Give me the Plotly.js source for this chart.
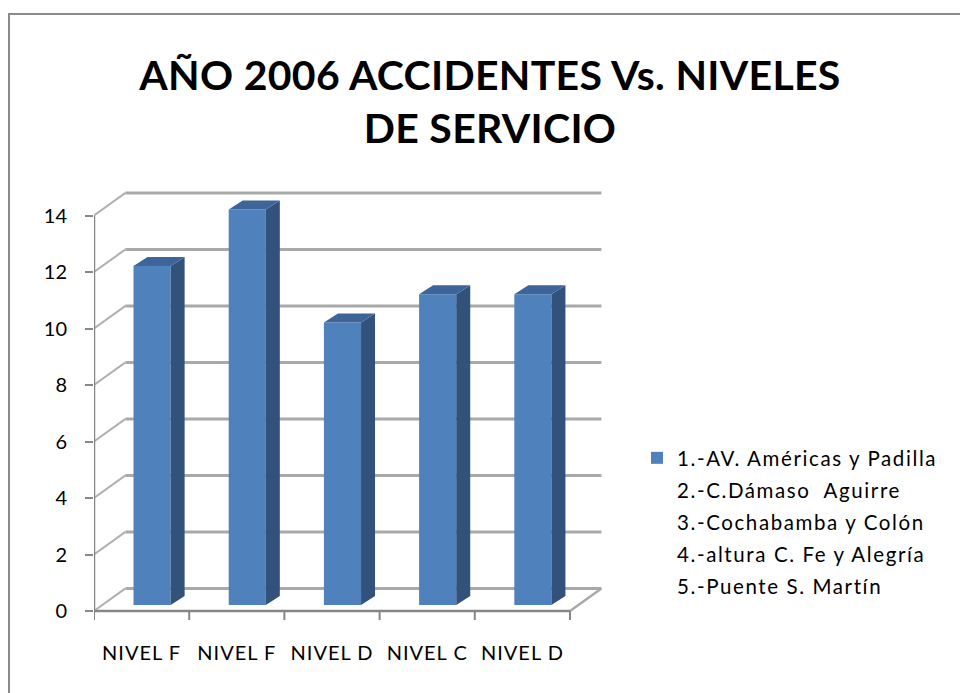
<!DOCTYPE html>
<html>
<head>
<meta charset="utf-8">
<script src="https://cdn.plot.ly/plotly-3.0.1.min.js"></script>
<style>
  html, body { margin: 0; padding: 0; background: #ffffff; overflow: hidden; }
  #chart { width: 960px; height: 693px; }
  .legendtext { letter-spacing: 1.6px; }
  .xtick text { letter-spacing: 1px; }
  .gtitle { letter-spacing: 0.3px; }
</style>
</head>
<body>
<div id="chart"></div>
<script>
// ---------- data ----------
const titleText = "AÑO 2006 ACCIDENTES Vs. NIVELES<br>DE SERVICIO";
const categories = ["NIVEL F", "NIVEL F", "NIVEL D", "NIVEL C", "NIVEL D"];
const accidents = [12, 14, 10, 11, 11];
const legendNames = [
  "1.-AV. Américas y Padilla",
  "2.-C.Dámaso  Aguirre",
  "3.-Cochabamba y Colón",
  "4.-altura C. Fe y Alegría",
  "5.-Puente S. Martín"
];
const yTicks = [0, 2, 4, 6, 8, 10, 12, 14];

// ---------- style / geometry constants ----------
const FRONT = "#4F81BD", SIDE = "#32527B", TOP = "#3D659A";
const GRID = "#a9a9a9", AXIS = "#878787", FRAME = "#8a8a8a";
const BACK_DX = 0.33, BACK_DY = 0.80;    // depth of the wall (data units)
const BAR_DX = 0.11, BAR_DY = 0.21;      // bar front offset into depth
const BAR_W = 0.39;                       // bar width
const SIDE_DX = 0.147, SIDE_DY = 0.32;   // bar depth

const nCat = categories.length;
const xMin = -0.5, xMax = nCat - 0.5;
const yTop = yTicks[yTicks.length - 1];

// ---------- page geometry ----------
const W = 960, H = 693;
const ML = 94, MT = 180, PW = 526, PH = 450;
const XPX = 95.2, YPX = 28.25, Y0PX = 611;
const px2paperX = px => (px - ML) / PW;
const px2paperY = py => (MT + PH - py) / PH;

// ---------- shapes: chart frame, walls, grid, axes ----------
const shapes = [];
// outer chart frame (left and top edges visible)
shapes.push({type: "line", xref: "paper", yref: "paper",
  x0: px2paperX(9), x1: px2paperX(9), y0: px2paperY(14), y1: px2paperY(H + 5),
  line: {color: FRAME, width: 2}});
shapes.push({type: "line", xref: "paper", yref: "paper",
  x0: px2paperX(8), x1: px2paperX(W + 5), y0: px2paperY(14), y1: px2paperY(14),
  line: {color: FRAME, width: 2}});

function seg(x0, y0, x1, y1, color, width) {
  shapes.push({type: "line", xref: "x", yref: "y", x0, y0, x1, y1, layer: "below",
               line: {color, width}});
}
yTicks.forEach(v => {
  seg(xMin + BACK_DX, v + BACK_DY, xMax + BACK_DX, v + BACK_DY, GRID, 3);
  seg(xMin, v, xMin + BACK_DX, v + BACK_DY, "#b0b0b0", 2);
});
seg(xMax, 0, xMax + BACK_DX, BACK_DY, GRID, 2.5);
seg(xMin, 0, xMin, yTop, AXIS, 2.5);
seg(xMin, 0, xMax, 0, AXIS, 2.5);
for (let k = 0; k <= nCat; k++) {
  shapes.push({type: "line", xref: "x", yref: "y", ysizemode: "pixel", yanchor: 0,
               x0: xMin + k, x1: xMin + k, y0: 0, y1: -9, layer: "below",
               line: {color: AXIS, width: 2}});
}

// ---------- traces ----------
const traces = [];
traces.push({
  type: "bar",
  x: categories.map((c, i) => i + BAR_DX),
  y: accidents,
  base: accidents.map(() => BAR_DY),
  width: BAR_W,
  name: legendNames[0],
  legendgroup: "g0",
  marker: {color: FRONT, line: {width: 0}},
  hoverinfo: "skip"
});
accidents.forEach((v, i) => {
  const xl = i + BAR_DX - BAR_W / 2, xr = i + BAR_DX + BAR_W / 2;
  const b = BAR_DY, t = BAR_DY + v;
  traces.push({
    type: "scatter", mode: "lines", fill: "toself", fillcolor: SIDE,
    line: {width: 0, color: SIDE}, showlegend: false, hoverinfo: "skip",
    x: [xr, xr, xr + SIDE_DX, xr + SIDE_DX, xr],
    y: [b, t, t + SIDE_DY, b + SIDE_DY, b]
  });
  traces.push({
    type: "scatter", mode: "lines", fill: "toself", fillcolor: TOP,
    line: {width: 0, color: TOP}, showlegend: false, hoverinfo: "skip",
    x: [xl, xr, xr + SIDE_DX, xl + SIDE_DX, xl],
    y: [t, t, t + SIDE_DY, t + SIDE_DY, t]
  });
});
legendNames.slice(1).forEach((n, k) => {
  traces.push({
    type: "bar", x: [null], y: [null], name: n, legendgroup: "g" + (k + 1),
    marker: {color: "rgba(0,0,0,0)"}, hoverinfo: "skip"
  });
});

// ---------- layout ----------
const layout = {
  width: W, height: H,
  margin: {l: ML, t: MT, r: W - ML - PW, b: H - MT - PH},
  paper_bgcolor: "#ffffff", plot_bgcolor: "rgba(0,0,0,0)",
  font: {family: "Lato, 'Open Sans', sans-serif", color: "#000000"},
  title: {
    text: titleText, x: 490 / W, xanchor: "center", xref: "container",
    y: 1 - 90 / H, yanchor: "top", yref: "container",
    font: {family: "Lato, sans-serif", size: 41, weight: 700, color: "#000000"}
  },
  barmode: "overlay",
  hovermode: false,
  showlegend: true,
  legend: {
    x: 637 / W, xref: "container", xanchor: "left",
    y: 1 - 438 / H, yref: "container", yanchor: "top",
    traceorder: "grouped", tracegroupgap: 2.5,
    font: {size: 20.5, family: "Lato, sans-serif", color: "#000000"},
    bgcolor: "rgba(0,0,0,0)"
  },
  xaxis: {
    range: [xMin, xMin + PW / XPX],
    tickvals: categories.map((c, i) => i), ticktext: categories,
    ticks: "", showgrid: false, zeroline: false, showline: false,
    ticklabelstandoff: 9, tickfont: {size: 20}, fixedrange: true
  },
  yaxis: {
    range: [(Y0PX - (MT + PH)) / YPX, (Y0PX - MT) / YPX],
    tickvals: yTicks, ticks: "outside", ticklen: 8, tickwidth: 2, tickcolor: AXIS,
    showgrid: false, zeroline: false, showline: false,
    ticklabelstandoff: 14, tickfont: {size: 20}, fixedrange: true
  },
  shapes
};
Plotly.newPlot("chart", traces, layout, {displayModeBar: false, staticPlot: true});
</script>
</body>
</html>
